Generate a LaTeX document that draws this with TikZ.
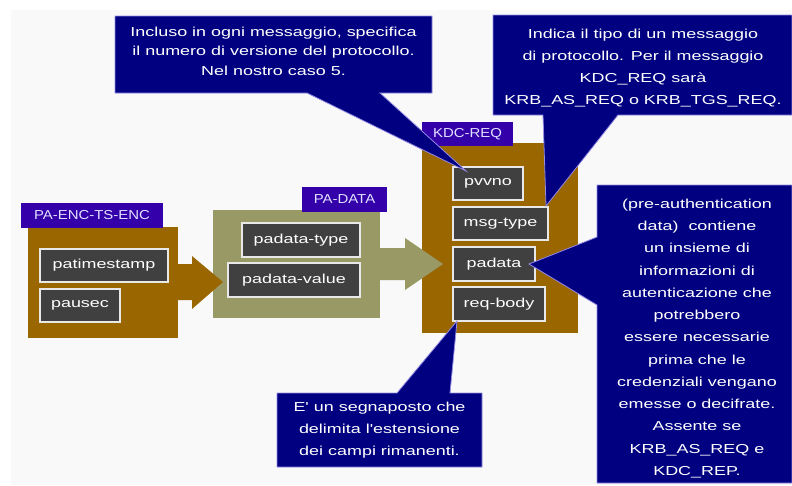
\documentclass[tikz,border=0pt]{standalone}
\usepackage{fontspec}
\usetikzlibrary{calc}
% wide bitmap-like sans for field and callout texts, narrower one for tags
\newfontfamily\pixfont{Liberation Sans}[FakeStretch=1.38]
\newfontfamily\tagfont{Liberation Sans}[FakeStretch=1.15]
\definecolor{navyfill}{RGB}{0,0,128}
\definecolor{navyedge}{RGB}{150,140,230}
\definecolor{tagpurple}{RGB}{51,0,170}
\definecolor{tagtext}{RGB}{225,225,255}
\definecolor{brownfill}{RGB}{153,102,0}
\definecolor{olivefill}{RGB}{153,153,102}
\definecolor{fieldgray}{RGB}{64,64,64}
\definecolor{fieldedge}{RGB}{232,232,232}
\definecolor{panelgray}{RGB}{249,249,249}
\begin{document}
\begin{tikzpicture}[x=1pt,y=-1pt,
  groupbox/.style={anchor=north west, inner sep=0pt, draw=none},
  fieldbox/.style={draw=fieldedge, line width=1.5pt, fill=fieldgray, text=white,
    font=\pixfont\fontsize{13}{15}\selectfont, anchor=north west, inner sep=0pt,
    outer sep=0pt},
  tagbox/.style={fill=tagpurple, text=tagtext, font=\tagfont\fontsize{13}{15}\selectfont,
    anchor=north west, inner sep=0pt, outer sep=0pt},
  callout/.style={fill=navyfill, draw=navyedge, line width=0.8pt, line join=miter},
  callouttext/.style={text=white, align=center, inner sep=0pt,
    font=\pixfont\fontsize{13}{#1}\selectfont},
]
% page and light panel
\useasboundingbox (0,0) rectangle (792,485);
\fill[white] (0,0) rectangle (792,485);
\fill[panelgray] (11,10) rectangle (792,485);

% group containers
\node[groupbox, fill=brownfill, minimum width=150pt, minimum height=111pt] (encbox) at (28,227) {};
\node[groupbox, fill=olivefill, minimum width=167pt, minimum height=108pt] (databox) at (213,210) {};

% arrow PA-ENC-TS-ENC -> PA-DATA
\fill[brownfill] (174,264) -- (192,264) -- (192,256) -- (223,282) -- (192,309)
  -- (192,300) -- (174,300) -- cycle;

\node[groupbox, fill=brownfill, minimum width=156pt, minimum height=190pt] (kdcbox) at (422,143) {};

% arrow PA-DATA -> KDC-REQ
\fill[olivefill] (376,248) -- (405,248) -- (405,238) -- (443,264) -- (405,290)
  -- (405,280) -- (376,280) -- cycle;

% fields
\node[fieldbox, minimum width=128pt, minimum height=33pt] (patimestamp) at (40,249) {patimestamp};
\node[fieldbox, minimum width=80pt, minimum height=33pt] (pausec) at (40,289) {pausec};
\node[fieldbox, minimum width=118pt, minimum height=34pt] (padatatype) at (242,223) {padata-type};
\node[fieldbox, minimum width=132pt, minimum height=34pt] (padatavalue) at (228,263) {padata-value};
\node[fieldbox, minimum width=70pt, minimum height=33pt] (pvvno) at (453,167) {pvvno};
\node[fieldbox, minimum width=95pt, minimum height=33pt] (msgtype) at (453,207) {msg-type};
\node[fieldbox, minimum width=82pt, minimum height=34pt] (padata) at (453,247) {padata};
\node[fieldbox, minimum width=92pt, minimum height=34pt] (reqbody) at (453,287) {req-body};

% tags
\node[tagbox, minimum width=142pt, minimum height=25pt] (tagenc) at (21,203) {PA-ENC-TS-ENC};
\node[tagbox, minimum width=85pt, minimum height=25pt] (tagdata) at (302,187) {PA-DATA};
\node[tagbox, minimum width=91pt, minimum height=24pt] (tagkdc) at (422,122) {KDC-REQ};

% callout tips on the fields
\coordinate (tipA) at ($(pvvno.north west)+(13,4)$);
\coordinate (tipB) at ($(msgtype.north east)+(-2,-1)$);
\coordinate (tipC) at ($(padata.east)+(-6,0)$);
\coordinate (tipD) at ($(reqbody.south west)+(4,0)$);

% callout for pvvno
\draw[callout] (115,16) -- (432,16) -- (432,93) -- (380,93) -- (tipA) -- (307,93)
  -- (115,93) -- cycle;
\node[callouttext=19.5] (noteA) at (273.5,51) {Incluso in ogni messaggio, specifica\\
  il numero di versione del protocollo.\\Nel nostro caso 5.};

% callout for msg-type
\draw[callout] (493,15) -- (792,15) -- (792,115) -- (618,115) -- (tipB) -- (543,115)
  -- (493,115) -- cycle;
\node[callouttext=22] (noteB) at (643,68) {Indica il tipo di un messaggio\\
  di protocollo. Per il messaggio\\KDC\_REQ sarà\\KRB\_AS\_REQ o KRB\_TGS\_REQ.};

% callout for padata
\draw[callout] (597,185) -- (792,185) -- (792,483) -- (597,483) -- (597,305) -- (tipC)
  -- (597,237) -- cycle;
\node[callouttext=22.25] (noteC) at (697,338.5) {(pre-authentication\\data) \ contiene\\
  un insieme di\\informazioni di\\autenticazione che\\potrebbero\\essere necessarie\\
  prima che le\\credenziali vengano\\emesse o decifrate.\\Assente se\\KRB\_AS\_REQ e\\KDC\_REP.};

% callout for req-body
\draw[callout] (277,393) -- (397,393) -- (tipD) -- (450,393) -- (482,393) -- (482,467)
  -- (277,467) -- cycle;
\node[callouttext=22] (noteD) at (379.5,430) {E' un segnaposto che\\
  delimita l'estensione\\dei campi rimanenti.};
\end{tikzpicture}
\end{document}
